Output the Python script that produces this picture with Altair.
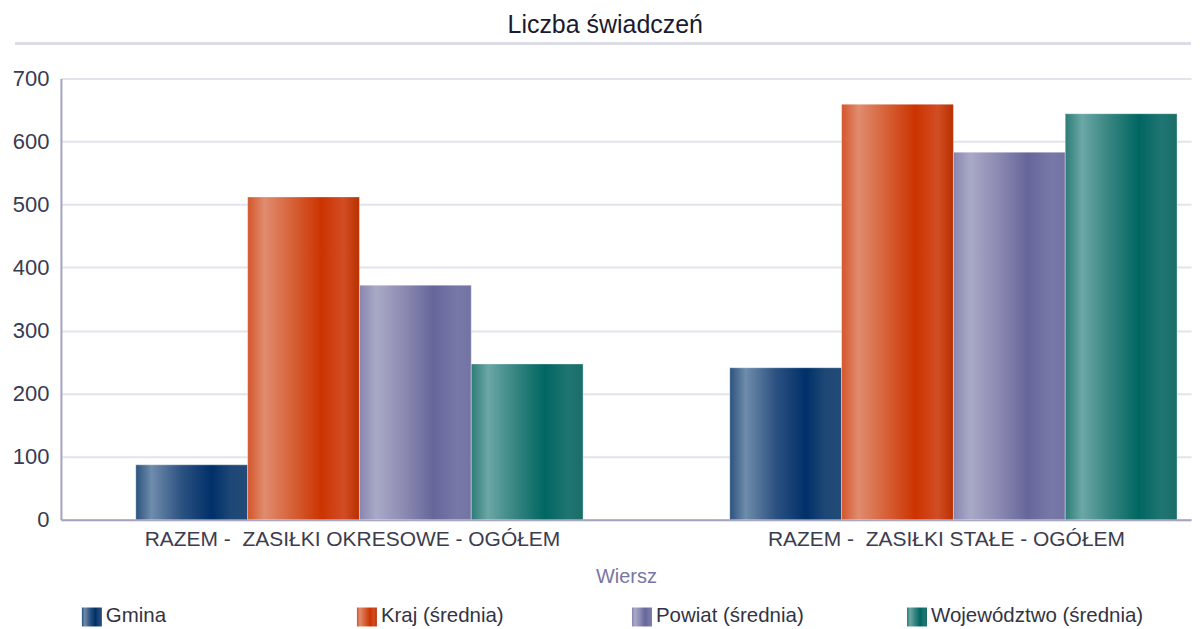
import altair as alt
import pandas as pd

# ---- data ----
groups = ["RAZEM -\u00a0 ZASIŁKI OKRESOWE - OGÓŁEM", "RAZEM -\u00a0 ZASIŁKI STAŁE - OGÓŁEM"]
series = ["Gmina", "Kraj (średnia)", "Powiat (średnia)", "Województwo (średnia)"]
gmina = [87, 241]
kraj = [512, 659]
powiat = [372, 583]
wojewodztwo = [247, 644]
y_ticks = [0, 100, 200, 300, 400, 500, 600, 700]

values = [gmina, kraj, powiat, wojewodztwo]
rows = []
for s, vals in zip(series, values):
    for g, v in zip(groups, vals):
        rows.append({"group": g, "series": s, "value": v})
df = pd.DataFrame(rows)
legend_df = pd.DataFrame({"series": series})

FONT = "Liberation Sans"

# metallic-looking horizontal gradients, one per series
grad_stops = {
    "Gmina": [(0.0, "#2b527e"), (0.14, "#6f8cab"), (0.42, "#2a5080"), (0.68, "#00306a"), (0.85, "#1e4775"), (1.0, "#234b78")],
    "Kraj (średnia)": [(0.0, "#d3552b"), (0.15, "#e08c6e"), (0.45, "#d4582c"), (0.66, "#cc3300"), (0.86, "#d24d24"), (1.0, "#b83000")],
    "Powiat (średnia)": [(0.0, "#8886b0"), (0.15, "#a9a9c7"), (0.4, "#8c8ab2"), (0.66, "#66669a"), (0.88, "#7878a8"), (1.0, "#7474a4")],
    "Województwo (średnia)": [(0.0, "#2c7c77"), (0.15, "#6ba7a5"), (0.4, "#358480"), (0.66, "#006661"), (0.86, "#1f7571"), (1.0, "#1a6e6a")],
}


def grad(name):
    return alt.LinearGradient(
        gradient="linear",
        stops=[alt.GradientStop(color=c, offset=o) for o, c in grad_stops[name]],
        x1=0, x2=1, y1=0, y2=0,
    )


x_scale = alt.Scale(domain=groups, paddingInner=0.247, paddingOuter=0.0748, align=0.843)
x_axis = alt.Axis(
    title="Wiersz", labelFontSize=21, labelFont=FONT, labelColor="#3c3c4e", labelPadding=9,
    labelLimit=0, labelOffset=-7, ticks=False, domainColor="#a3a3bf", domainWidth=2, grid=False,
    labelAngle=0, titleFontSize=20, titleFont=FONT, titleColor="#7676a4", titleFontWeight="normal",
    titlePadding=17,
)
y_axis = alt.Axis(
    title=None, values=y_ticks, labelFontSize=22, labelFont=FONT, labelColor="#3a3a50",
    ticks=False, labelPadding=12, domainColor="#a3a3bf", domainWidth=2,
    gridColor="#e3e3ec", gridWidth=2, minExtent=53, maxExtent=53,
)

bar_layers = []
for s in series:
    bar_layers.append(
        alt.Chart(df)
        .transform_filter(alt.datum.series == s)
        .mark_bar(fill=grad(s), stroke="#ffffff", strokeOpacity=0.35, strokeWidth=1)
        .encode(
            x=alt.X("group:N", scale=x_scale, axis=x_axis, sort=groups),
            xOffset=alt.XOffset("series:N", scale=alt.Scale(domain=series, paddingInner=0, paddingOuter=0)),
            y=alt.Y("value:Q", scale=alt.Scale(domain=[0, 700], nice=False), axis=y_axis),
        )
    )
main = alt.layer(*bar_layers)

leg_x = alt.X("series:N", scale=alt.Scale(type="point", domain=series, padding=0.5544, align=0.1015), axis=None)
leg_layers = []
for s in series:
    leg_layers.append(
        alt.Chart(legend_df)
        .transform_filter(alt.datum.series == s)
        .mark_bar(width=20, fill=grad(s))
        .encode(x=leg_x, y=alt.value(530), y2=alt.value(549))
    )
leg_text = (
    alt.Chart(legend_df)
    .mark_text(align="left", baseline="middle", dx=14, fontSize=20.5, font=FONT, color="#333344")
    .encode(x=leg_x, y=alt.value(539), text="series:N")
)
# thin separator under the title
title_rule = (
    alt.Chart(legend_df.head(1))
    .mark_rule(color="#dcdce6", strokeWidth=3)
    .encode(x=alt.value(-46), x2=alt.value(1132), y=alt.value(-35))
)
legend = alt.layer(*leg_layers, leg_text, title_rule)

chart = (
    alt.layer(main, legend)
    .resolve_scale(x="independent")
    .properties(
        width=1132,
        height=442,
        padding={"top": 4, "left": 0, "right": 0, "bottom": 0},
        title=alt.Title(
            "Liczba świadczeń", fontSize=25, font=FONT, color="#1a1a30", fontWeight="normal",
            anchor="middle", frame="bounds", offset=4, dx=5,
        ),
    )
    .configure_view(stroke=None)
)

chart.save("out.html", embed_options={"renderer": "svg", "actions": False})
